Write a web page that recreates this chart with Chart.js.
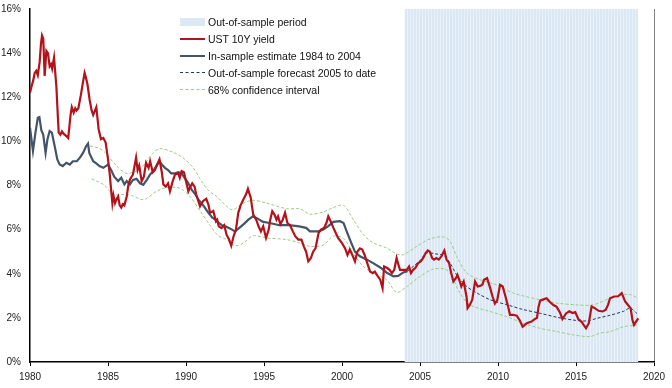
<!DOCTYPE html>
<html>
<head>
<meta charset="utf-8">
<script src="https://cdn.jsdelivr.net/npm/chart.js@4.4.0/dist/chart.umd.min.js"></script>
<style>
  html, body { margin: 0; padding: 0; background: #fff; }
  #wrap { position: relative; width: 672px; height: 388px; }
  #legend { position: absolute; left: 180px; top: 13px; font: 10.5px "Liberation Sans", Arial, sans-serif; color: #111; }
  .item { display: flex; align-items: center; height: 17px; white-space: nowrap; }
  .swatch { width: 25px; margin-right: 3px; }
</style>
</head>
<body>
<div id="wrap">
  <canvas id="chart" width="672" height="388"></canvas>
  <div id="legend"></div>
</div>
<script>
"use strict";

// UST 10Y yield (%)
var yieldYears = [1980.0,1980.1,1980.2,1980.3,1980.4,1980.5,1980.62,1980.7,1980.77,1980.85,1980.94,1981.05,1981.15,1981.26,1981.35,1981.42,1981.54,1981.69,1981.78,1981.84,1981.95,1982.05,1982.15,1982.33,1982.45,1982.6,1982.68,1982.8,1982.9,1982.98,1983.1,1983.25,1983.4,1983.5,1983.58,1983.68,1983.82,1983.95,1984.05,1984.25,1984.4,1984.55,1984.7,1984.85,1985.0,1985.1,1985.2,1985.28,1985.35,1985.45,1985.53,1985.65,1985.75,1985.85,1985.95,1986.05,1986.2,1986.3,1986.41,1986.6,1986.8,1986.9,1987.0,1987.16,1987.3,1987.44,1987.6,1987.7,1987.87,1988.0,1988.15,1988.3,1988.45,1988.55,1988.7,1988.85,1988.97,1989.15,1989.3,1989.5,1989.6,1989.72,1989.87,1990.05,1990.15,1990.25,1990.4,1990.55,1990.65,1990.9,1991.1,1991.3,1991.45,1991.54,1991.75,1991.92,1992.0,1992.1,1992.28,1992.45,1992.6,1992.76,1992.9,1993.05,1993.2,1993.35,1993.5,1993.7,1993.85,1993.97,1994.15,1994.31,1994.5,1994.65,1994.8,1994.95,1995.13,1995.3,1995.4,1995.53,1995.67,1995.8,1995.9,1996.05,1996.2,1996.35,1996.5,1996.67,1996.85,1997.0,1997.2,1997.4,1997.55,1997.7,1997.84,1998.0,1998.15,1998.3,1998.5,1998.65,1998.85,1999.0,1999.12,1999.27,1999.45,1999.6,1999.75,2000.0,2000.2,2000.35,2000.5,2000.7,2000.83,2000.98,2001.15,2001.3,2001.45,2001.65,2001.8,2001.97,2002.1,2002.3,2002.45,2002.6,2002.7,2002.9,2003.05,2003.2,2003.35,2003.5,2003.62,2003.72,2003.93,2004.15,2004.3,2004.42,2004.56,2004.7,2004.88,2005.05,2005.2,2005.36,2005.5,2005.63,2005.78,2005.9,2006.05,2006.2,2006.37,2006.56,2006.7,2006.87,2007.0,2007.14,2007.3,2007.4,2007.55,2007.65,2007.8,2007.98,2008.05,2008.2,2008.35,2008.53,2008.7,2008.85,2009.0,2009.1,2009.3,2009.5,2009.65,2009.8,2009.95,2010.13,2010.3,2010.48,2010.65,2010.77,2010.98,2011.2,2011.4,2011.58,2011.85,2012.15,2012.37,2012.5,2012.6,2012.7,2012.95,2013.12,2013.33,2013.55,2013.76,2013.97,2014.13,2014.36,2014.57,2014.78,2014.95,2015.15,2015.36,2015.5,2015.64,2015.82,2016.0,2016.2,2016.45,2016.7,2016.9,2017.06,2017.18,2017.45,2017.7,2017.93,2018.15,2018.36,2018.5,2018.62,2018.72,2018.87,2018.99];
var yieldValues = [12.2,12.5,12.74,13.1,13.2,13.0,13.6,14.4,14.8,14.65,12.97,14.1,14.0,13.4,13.5,13.3,13.8,12.5,11.2,10.4,10.3,10.45,10.35,10.24,10.15,11.2,11.55,11.3,11.5,11.4,11.5,12.06,12.7,13.1,12.9,12.6,11.9,11.4,11.2,11.55,10.55,10.1,10.15,9.95,9.2,8.6,7.8,7.2,7.55,7.2,7.35,7.5,7.1,7.0,7.15,7.1,7.5,8.0,8.27,8.5,9.26,8.7,8.9,8.2,8.4,9.03,8.8,9.1,8.6,8.7,8.95,9.18,8.6,8.05,7.95,8.1,7.74,8.2,8.5,8.55,8.35,8.65,8.6,8.05,7.74,7.9,8.1,7.95,7.6,7.06,7.3,7.4,7.1,6.76,6.85,6.38,6.45,6.15,6.07,6.2,5.77,5.55,5.27,5.7,6.0,6.76,7.1,7.4,7.6,7.85,7.45,6.68,6.45,6.15,5.92,6.15,5.62,6.0,6.45,6.83,6.68,6.45,6.6,6.25,6.45,6.76,6.3,6.2,5.92,5.7,5.55,5.55,5.24,5.0,4.56,4.7,5.0,5.15,5.85,6.0,6.08,6.3,6.6,6.38,6.08,5.85,5.62,5.39,5.15,4.85,5.1,4.79,4.56,5.0,5.15,5.1,4.85,4.41,4.1,4.03,4.1,3.88,3.73,3.35,4.33,4.26,4.18,4.03,4.18,4.71,4.4,4.18,4.18,4.18,4.33,4.03,4.18,4.26,4.48,4.56,4.71,4.94,5.06,5.0,4.71,4.64,4.71,4.64,4.79,5.05,4.64,4.48,4.03,3.65,3.8,3.95,3.65,3.42,3.65,2.97,2.44,2.6,2.82,3.65,3.42,3.45,3.5,3.73,3.8,3.35,2.97,2.65,2.8,3.5,3.42,2.97,2.5,2.14,2.14,2.1,1.88,1.6,1.76,1.83,1.95,2.0,2.5,2.78,2.85,2.89,2.72,2.58,2.5,2.25,1.95,2.2,2.3,2.22,2.26,1.95,1.82,1.67,1.53,1.76,2.52,2.44,2.32,2.29,2.36,2.6,2.89,2.97,2.98,3.12,2.74,2.56,2.44,1.9,1.68,1.85,1.98];

// In-sample estimate
var estYears = [1980.0,1980.19,1980.35,1980.5,1980.6,1980.73,1980.85,1981.0,1981.12,1981.26,1981.4,1981.58,1981.75,1981.9,1982.1,1982.33,1982.55,1982.75,1983.0,1983.2,1983.4,1983.6,1983.72,1983.8,1984.05,1984.25,1984.45,1984.7,1985.0,1985.2,1985.4,1985.65,1985.85,1986.05,1986.2,1986.4,1986.6,1986.83,1987.05,1987.26,1987.5,1987.7,1987.9,1988.1,1988.3,1988.45,1988.65,1988.85,1989.05,1989.3,1989.5,1989.72,1989.95,1990.15,1990.37,1990.6,1990.8,1991.0,1991.25,1991.45,1991.67,1991.9,1992.1,1992.3,1992.5,1992.75,1992.95,1993.14,1993.4,1993.7,1994.0,1994.3,1994.6,1994.9,1995.35,1996.0,1996.6,1997.25,1997.7,1997.95,1998.5,1998.8,1999.1,1999.45,1999.87,2000.1,2000.3,2000.6,2000.83,2001.15,2001.6,2002.0,2002.5,2002.9,2003.3,2003.6,2003.93,2004.2];
var estValues = [10.62,9.56,10.4,11.07,11.1,10.5,10.3,9.48,10.1,10.47,10.4,9.79,9.18,8.95,8.88,9.03,8.95,9.1,9.1,9.26,9.48,9.79,9.9,9.48,9.1,9.0,8.88,8.8,8.95,8.7,8.4,8.2,8.35,8.05,8.2,8.05,8.25,8.3,8.1,8.03,8.27,8.5,8.65,8.88,9.1,8.95,8.8,8.7,8.55,8.55,8.6,8.55,8.3,8.1,7.8,7.6,7.35,7.2,6.95,6.75,6.55,6.45,6.3,6.2,6.15,6.07,6.0,5.92,6.07,6.25,6.45,6.6,6.5,6.36,6.3,6.2,6.2,6.15,6.08,5.92,5.92,6.0,6.15,6.35,6.38,6.3,5.92,5.39,5.0,4.79,4.64,4.48,4.26,4.03,3.88,3.9,4.06,4.12];

// Out-of-sample forecast
var fcYears = [2004.2,2004.6,2005.0,2005.43,2006.0,2006.4,2006.6,2007.0,2007.35,2008.0,2008.67,2009.5,2010.6,2011.6,2012.7,2013.76,2014.83,2015.7,2016.34,2017.2,2018.05,2018.48,2018.9];
var fcValues = [4.12,4.35,4.6,4.94,4.9,4.86,4.79,4.4,3.95,3.42,3.12,2.82,2.59,2.38,2.21,2.03,1.9,1.86,1.98,2.12,2.3,2.44,2.2];

// 68% confidence interval
var ciUpYears = [1983.85,1984.4,1984.8,1985.56,1986.2,1987.05,1987.9,1988.33,1989.2,1989.8,1990.47,1990.9,1991.4,1991.97,1992.6,1993.0,1993.67,1994.3,1995.17,1996.45,1997.3,1997.95,1998.8,1999.44,2000.1,2000.73,2001.37,2002.0,2002.86,2003.5,2003.93,2004.79,2005.64,2006.5,2006.92,2007.35,2008.0,2008.85,2009.9,2011.0,2012.7,2013.76,2015.04,2016.1,2017.18,2018.0,2018.5,2018.95];
var ciUpValues = [9.79,9.7,9.5,8.88,8.55,8.75,9.48,9.67,9.5,9.26,8.8,8.3,7.8,7.5,7.06,6.9,7.2,7.33,7.2,6.95,6.94,6.7,6.8,7.0,7.1,6.45,5.77,5.4,5.17,4.9,4.86,5.24,5.58,5.67,5.48,4.79,4.03,3.73,3.5,3.12,2.82,2.67,2.59,2.59,2.89,3.05,3.05,2.9];
var ciLoYears = [1983.95,1984.5,1984.8,1985.34,1986.1,1986.5,1987.27,1988.1,1988.7,1989.6,1990.26,1990.9,1991.54,1992.07,1992.6,1993.14,1993.67,1994.3,1995.17,1996.45,1997.3,1997.95,1998.8,1999.44,2000.1,2000.73,2001.37,2002.0,2002.86,2003.5,2004.15,2005.0,2005.85,2006.6,2007.0,2007.56,2008.2,2009.5,2010.55,2011.6,2012.67,2013.76,2014.83,2015.9,2016.5,2017.2,2018.05,2018.9];
var ciLoValues = [8.3,8.12,8.0,7.6,7.6,7.55,7.36,7.73,7.9,7.88,7.5,6.85,6.2,5.72,5.55,5.27,5.39,5.72,5.62,5.55,5.39,5.24,5.3,5.7,5.6,4.9,4.33,4.03,3.73,3.15,3.42,3.88,4.21,4.21,3.95,3.12,2.59,2.29,2.06,1.76,1.53,1.38,1.23,1.15,1.3,1.38,1.6,1.67];

// out-of-sample period (shaded)
var periodYears = [2004, 2019];
var periodTop = [16, 16];

var labels = ["Out-of-sample period", "UST 10Y yield", "In-sample estimate 1984 to 2004",
              "Out-of-sample forecast 2005 to date", "68% confidence interval"];

function pts(xs, ys) {
    var out = [];
    for (var i = 0; i < xs.length; i++) out.push({x: xs[i], y: ys[i]});
    return out;
}

// striped fill for the shaded period
var pc = document.createElement("canvas");
pc.width = 3; pc.height = 4;
var pctx = pc.getContext("2d");
pctx.fillStyle = "#dbe8f4";
pctx.fillRect(0, 0, 3, 4);
pctx.fillStyle = "#e9f1f9";
pctx.fillRect(2, 0, 1, 4);
var ctx0 = document.getElementById("chart");
var stripes = ctx0.getContext("2d").createPattern(pc, "repeat");

var red = "#b3121b", slate = "#44546a", navy = "#203864", green = "#9bcc7f";

var myChart = new Chart(ctx0, {
    type: "line",
    data: {
        datasets: [
            {label: labels[1], data: pts(yieldYears, yieldValues), borderColor: red, borderWidth: 2.2, pointRadius: 0, tension: 0},
            {label: labels[3], data: pts(fcYears, fcValues), borderColor: navy, borderWidth: 1, borderDash: [3, 2], pointRadius: 0, tension: 0.3},
            {label: labels[2], data: pts(estYears, estValues), borderColor: slate, borderWidth: 2.2, pointRadius: 0, tension: 0},
            {label: labels[4], data: pts(ciUpYears, ciUpValues), borderColor: green, borderWidth: 1, borderDash: [3, 2], pointRadius: 0, tension: 0.3},
            {label: labels[4] + " low", data: pts(ciLoYears, ciLoValues), borderColor: green, borderWidth: 1, borderDash: [3, 2], pointRadius: 0, tension: 0.3},
            {label: labels[0], data: pts(periodYears, periodTop), borderWidth: 0, borderColor: "rgba(0,0,0,0)", backgroundColor: stripes, fill: "origin", pointRadius: 0}
        ]
    },
    options: {
        responsive: false,
        animation: false,
        layout: {padding: {top: 9, right: 18, left: 0, bottom: 0}},
        plugins: {legend: {display: false}, tooltip: {enabled: false}},
        scales: {
            x: {
                type: "linear", min: 1980, max: 2020,
                afterFit: function (s) { s.height = 26; },
                border: {color: "#000", width: 1.5},
                grid: {
                    drawOnChartArea: true, drawTicks: true, tickLength: 4, tickColor: "#000",
                    color: function (c) { return c.tick && c.tick.value === 2020 ? "#808080" : "rgba(0,0,0,0)"; }
                },
                ticks: {stepSize: 5, padding: 5, color: "#222", font: {family: "Liberation Sans", size: 10},
                        callback: function (v) { return String(v); }}
            },
            y: {
                min: 0, max: 16,
                afterFit: function (s) { s.width = 30; s.paddingTop = 0; s.paddingBottom = 0; },
                border: {color: "#000", width: 1.5},
                grid: {display: false, drawTicks: false},
                ticks: {stepSize: 2, padding: 9, color: "#222", font: {family: "Liberation Sans", size: 10},
                        callback: function (v) { return v + "%"; }}
            }
        }
    }
});

// legend
var legendStyles = [
    "height:8px;background:#dce9f5;",
    "border-top:2px solid " + red + ";",
    "border-top:2px solid " + slate + ";",
    "border-top:1px dashed " + navy + ";",
    "border-top:1px dashed " + green + ";"
];
var lg = document.getElementById("legend");
for (var i = 0; i < labels.length; i++) {
    var row = document.createElement("div");
    row.className = "item";
    var sw = document.createElement("div");
    sw.className = "swatch";
    sw.style.cssText = legendStyles[i];
    var tx = document.createElement("span");
    tx.textContent = labels[i];
    row.appendChild(sw);
    row.appendChild(tx);
    lg.appendChild(row);
}
</script>
</body>
</html>
